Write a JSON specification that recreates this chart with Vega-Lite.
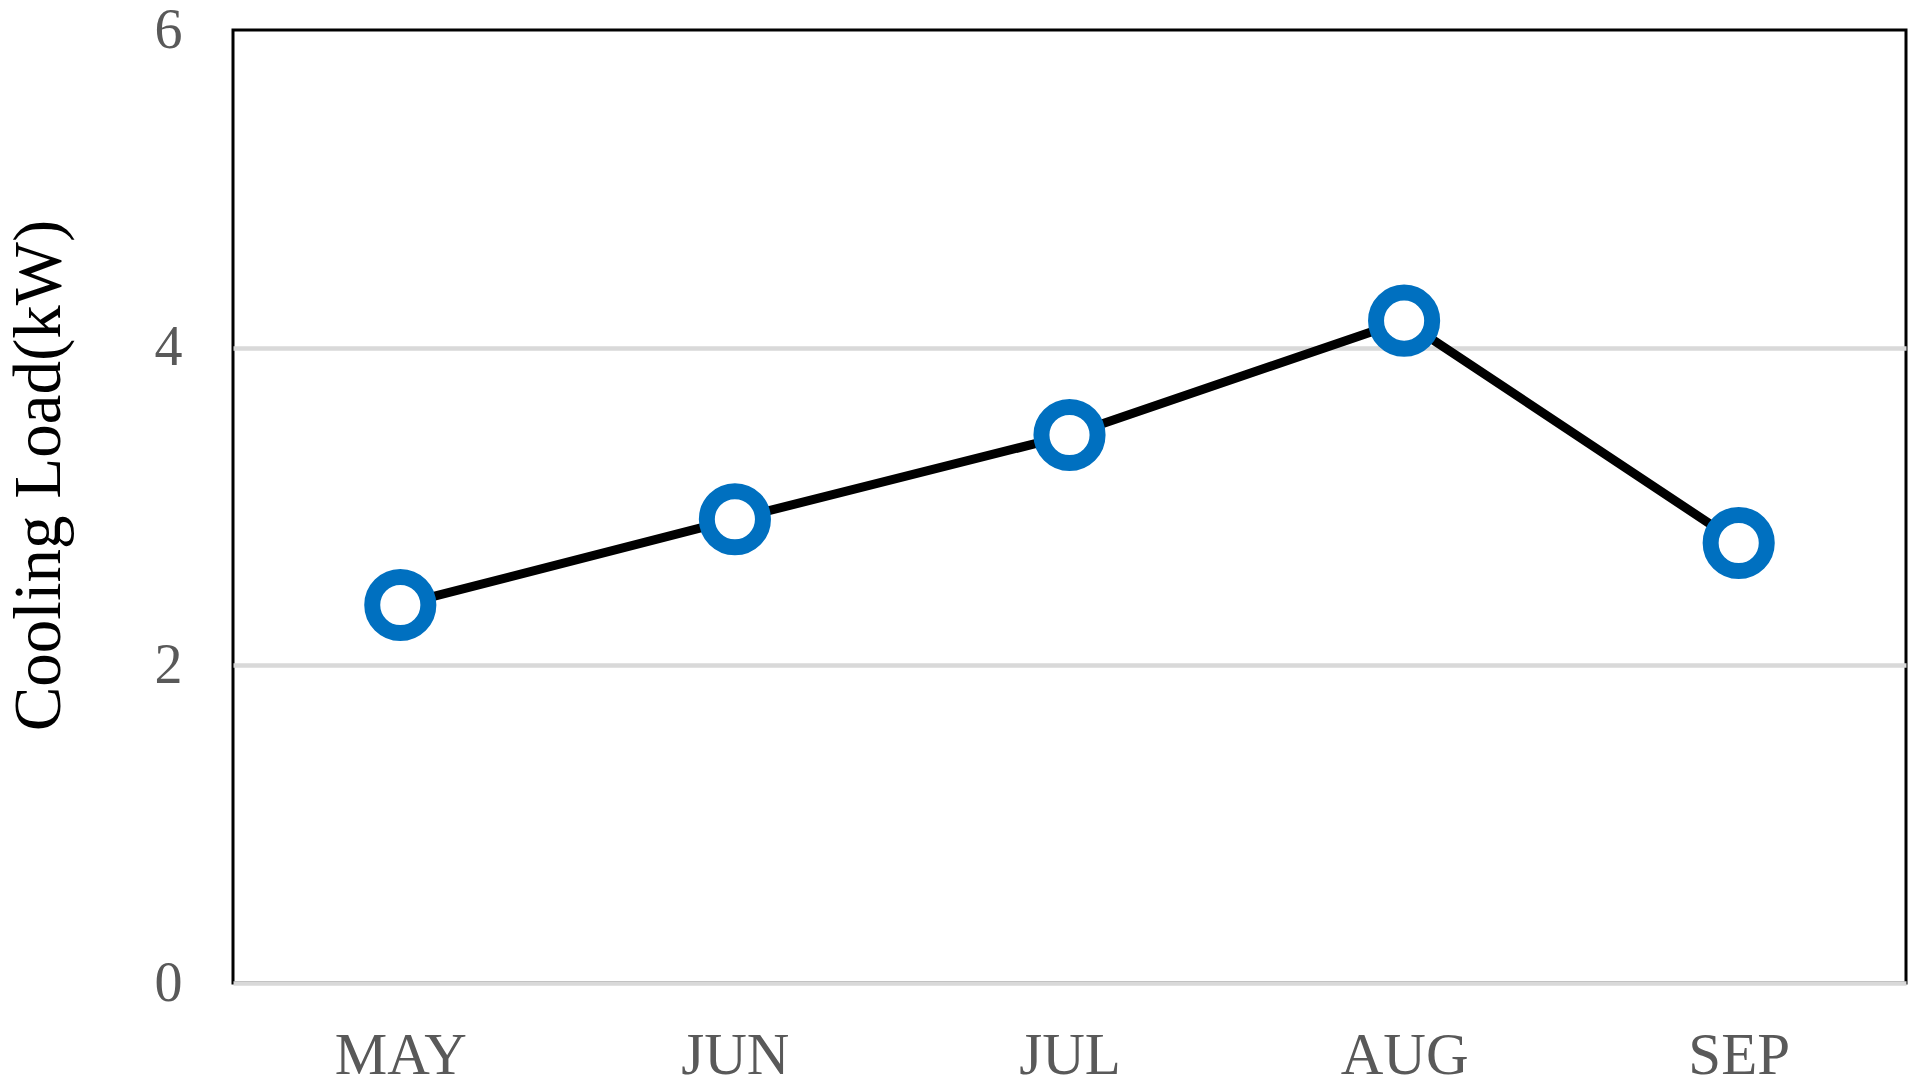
{
  "$schema": "https://vega.github.io/schema/vega-lite/v6.json",
  "autosize": "none",
  "width": 1673,
  "height": 953,
  "padding": {"left": 233, "top": 30, "right": 14, "bottom": 109},
  "background": "white",
  "config": {
    "view": {"stroke": "black", "strokeWidth": 3},
    "font": "Liberation Serif"
  },
  "data": {
    "values": [
      {"month": "MAY", "load": 2.38},
      {"month": "JUN", "load": 2.92},
      {"month": "JUL", "load": 3.45},
      {"month": "AUG", "load": 4.17},
      {"month": "SEP", "load": 2.77}
    ]
  },
  "encoding": {
    "x": {
      "field": "month",
      "type": "nominal",
      "sort": null,
      "scale": {"paddingInner": 0, "paddingOuter": 0.5},
      "axis": {
        "title": null,
        "labelAngle": 0,
        "labelFont": "Liberation Serif",
        "labelFontSize": 59,
        "labelColor": "#595959",
        "labelPadding": 43,
        "ticks": false,
        "tickSize": 0,
        "domain": false,
        "grid": false
      }
    },
    "y": {
      "field": "load",
      "type": "quantitative",
      "scale": {"domain": [0, 6], "nice": false},
      "axis": {
        "title": "Cooling Load(kW)",
        "titleFont": "Liberation Serif",
        "titleFontSize": 67,
        "titleFontWeight": "normal",
        "titleColor": "black",
        "titleAngle": -90,
        "titleAlign": "center",
        "titleBaseline": "middle",
        "titleX": -194,
        "titleY": 445,
        "values": [0, 2, 4, 6],
        "labelFont": "Liberation Serif",
        "labelFontSize": 56,
        "labelColor": "#595959",
        "labelPadding": 51,
        "ticks": false,
        "tickSize": 0,
        "domain": false,
        "grid": true,
        "gridColor": "#d9d9d9",
        "gridWidth": 4.5,
        "gridOpacity": {"condition": {"test": "datum.value == 6", "value": 0}, "value": 1}
      }
    }
  },
  "layer": [
    {
      "mark": {"type": "line", "color": "black", "strokeWidth": 9}
    },
    {
      "mark": {"type": "point", "shape": "circle", "filled": true, "fill": "white", "stroke": "#0070C0", "strokeWidth": 16, "size": 3150, "opacity": 1}
    }
  ]
}
